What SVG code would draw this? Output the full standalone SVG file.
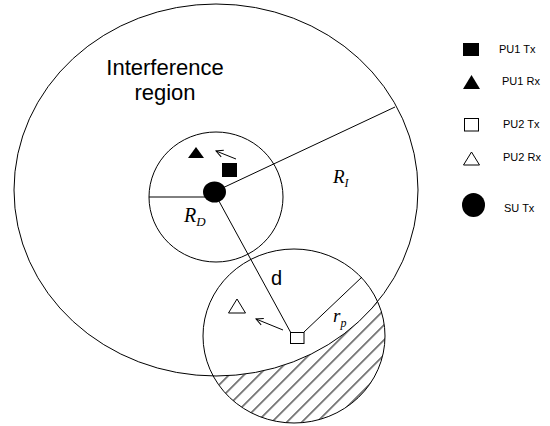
<svg xmlns="http://www.w3.org/2000/svg" width="550" height="426" viewBox="0 0 550 426">
<style>
.ln{fill:none;stroke:#000;stroke-width:1}
.fill{fill:#000;stroke:none}
.open{fill:#fff;stroke:#000;stroke-width:1}
.lbl{font-family:"Liberation Sans",Arial,sans-serif;fill:#000}
.leg{font-family:"Liberation Sans",Arial,sans-serif;font-size:11px;fill:#000}
.math{font-family:"Liberation Serif","Times New Roman",serif;font-style:italic;fill:#000}
</style>
<defs>
<marker id="arr" markerUnits="userSpaceOnUse" markerWidth="10" markerHeight="10" viewBox="-8 -5 10 10" refX="0" refY="0" orient="auto">
<path d="M-7,-3.5 L0,0 L-7,3.5" fill="none" stroke="#000" stroke-width="1"/>
</marker>
<pattern id="hatch" patternUnits="userSpaceOnUse" width="10.607" height="10" patternTransform="rotate(45)">
<line x1="2.8" y1="-1" x2="2.8" y2="11" stroke="#000" stroke-width="1"/>
</pattern>
<clipPath id="lowerClip"><ellipse cx="294" cy="336" rx="91" ry="87"/></clipPath>
</defs>
<g id="interference-region">
<ellipse class="ln" cx="216" cy="190" rx="202" ry="186"/>
<text class="lbl" font-size="22" x="165" y="75" text-anchor="middle">Interference</text>
<text class="lbl" font-size="22" x="165" y="100" text-anchor="middle">region</text>
</g>
<g id="hatched-area">
<path d="M0,0H550V426H0Z M14,190 A202,186 0 1,0 418,190 A202,186 0 1,0 14,190Z" fill="url(#hatch)" fill-rule="evenodd" clip-path="url(#lowerClip)"/>
</g>
<g id="su-range">
<ellipse class="ln" cx="216" cy="197" rx="67" ry="65"/>
</g>
<g id="pu2-range">
<ellipse class="ln" cx="294" cy="336" rx="91" ry="87"/>
</g>
<g id="connectors">
<line class="ln" x1="149" y1="197" x2="214" y2="197"/>
<line class="ln" x1="214" y1="192" x2="395" y2="107"/>
<line class="ln" x1="214" y1="192" x2="291" y2="333"/>
<line class="ln" x1="304" y1="332" x2="362" y2="277"/>
<line class="ln" x1="236" y1="159" x2="216" y2="151" marker-end="url(#arr)"/>
<line class="ln" x1="283" y1="330" x2="256" y2="319" marker-end="url(#arr)"/>
</g>
<g id="su-tx"><ellipse class="fill" cx="214.5" cy="192" rx="11.5" ry="10.5"/></g>
<g id="pu1-rx"><polygon class="fill" points="196,147 188,158 204,158"/></g>
<g id="pu1-tx"><rect class="fill" x="222" y="163" width="15" height="14"/></g>
<g id="pu2-rx"><polygon class="open" points="237,299 228.5,313 245.5,313"/></g>
<g id="pu2-tx"><rect class="open" x="290.5" y="332.5" width="13.5" height="11"/></g>
<g id="labels">
<text class="math" font-size="20" x="184" y="222">R<tspan font-size="13" dy="4">D</tspan></text>
<text class="math" font-size="19" x="333" y="183">R<tspan font-size="12" dy="4">I</tspan></text>
<text class="math" font-size="19" x="333" y="322" fill="#222">r<tspan font-size="12" dy="5">p</tspan></text>
<text class="lbl" font-size="20" x="271" y="285">d</text>
</g>
<g id="legend">
<rect class="fill" x="463" y="43" width="16" height="13"/>
<text class="leg" x="499" y="53">PU1 Tx</text>
<polygon class="fill" points="471.5,75 463,89 480,89"/>
<text class="leg" x="502" y="85">PU1 Rx</text>
<rect class="open" x="464.5" y="118.5" width="14" height="12.5"/>
<text class="leg" x="503" y="128">PU2 Tx</text>
<polygon class="open" points="471.5,152 463.5,165 479.5,165"/>
<text class="leg" x="503" y="161">PU2 Rx</text>
<ellipse class="fill" cx="473.5" cy="205" rx="11.5" ry="12"/>
<text class="leg" x="504" y="212">SU Tx</text>
</g>
</svg>
